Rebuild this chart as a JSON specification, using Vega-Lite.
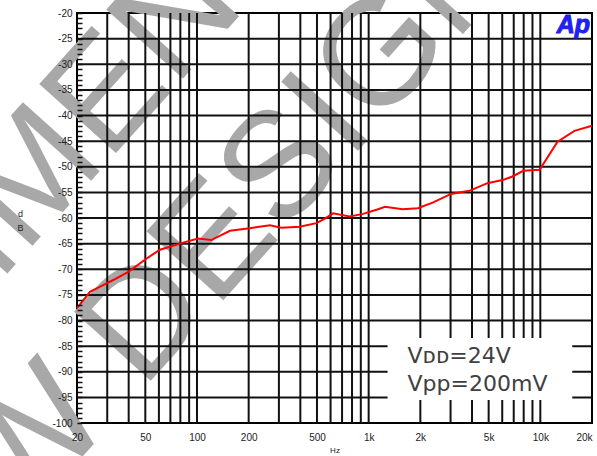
{
  "$schema": "https://vega.github.io/schema/vega-lite/v6.json",
  "width": 515,
  "height": 410,
  "autosize": "none",
  "padding": {"left": 77, "top": 13, "right": 5, "bottom": 33},
  "background": "white",
  "resolve": {"axis": {"x": "independent", "y": "independent"}},
  "config": {
    "view": {"stroke": "#000000", "strokeWidth": 2},
    "axis": {"labelFont": "Liberation Sans", "titleFont": "Liberation Sans", "labelColor": "#222222", "titleColor": "#222222", "domain": false, "grid": false}
  },
  "layer": [
    {
      "data": {"values": [
        {"f": 9.6, "db": -54.5, "t": "NOT RECOMMENDED FOR"},
        {"f": 70.0, "db": -74.4, "t": "NEW DESIGN"}
      ]},
      "mark": {"type": "text", "font": "Liberation Sans", "fontSize": 150, "angle": -48, "align": "center", "baseline": "middle", "fill": "#a8a8a8"},
      "encoding": {
        "x": {"field": "f", "type": "quantitative", "scale": {"type": "log", "domain": [20, 20000], "nice": false}, "axis": null},
        "y": {"field": "db", "type": "quantitative", "scale": {"domain": [-100, -20], "nice": false, "zero": false}, "axis": null},
        "text": {"field": "t"}
      }
    },
    {
      "data": {"values": [
        {"f": 30}, {"f": 40}, {"f": 50}, {"f": 60}, {"f": 70}, {"f": 80}, {"f": 90}, {"f": 100},
        {"f": 200}, {"f": 300}, {"f": 400}, {"f": 500}, {"f": 600}, {"f": 700}, {"f": 800}, {"f": 900}, {"f": 1000},
        {"f": 2000}, {"f": 3000}, {"f": 4000}, {"f": 5000}, {"f": 6000}, {"f": 7000}, {"f": 8000}, {"f": 9000}, {"f": 10000}
      ]},
      "mark": {"type": "rule", "color": "#111111", "strokeWidth": 2},
      "encoding": {
        "x": {
          "field": "f", "type": "quantitative",
          "scale": {"type": "log", "domain": [20, 20000], "nice": false},
          "axis": {
            "orient": "bottom", "zindex": 1,
            "values": [20,50,100,200,500,1000,2000,5000,10000,20000],
            "labelExpr": "datum.value == 20000 ? '20k\u00a0\u00a0' : (datum.value >= 1000 ? (datum.value/1000) + 'k' : datum.value + '')",
            "labelAlign": {"condition": {"test": "datum.value == 20000", "value": "right"}, "value": "center"},
            "ticks": false, "labelPadding": 9, "labelFontSize": 10, "labelFlush": false, "labelBound": false, "labelOverlap": false,
            "title": "Hz", "titleFontSize": 8, "titleFontWeight": "normal", "titlePadding": 4
          }
        }
      }
    },
    {
      "data": {"values": [
        {"db": -95}, {"db": -90}, {"db": -85}, {"db": -80}, {"db": -75}, {"db": -70}, {"db": -65}, {"db": -60},
        {"db": -55}, {"db": -50}, {"db": -45}, {"db": -40}, {"db": -35}, {"db": -30}, {"db": -25}
      ]},
      "mark": {"type": "rule", "color": "#111111", "strokeWidth": 2},
      "encoding": {
        "y": {
          "field": "db", "type": "quantitative",
          "scale": {"domain": [-100, -20], "nice": false, "zero": false},
          "axis": {
            "orient": "left", "zindex": 1, "offset": -5,
            "values": [-100,-99,-98,-97,-96,-95,-94,-93,-92,-91,-90,-89,-88,-87,-86,-85,-84,-83,-82,-81,-80,-79,-78,-77,-76,-75,-74,-73,-72,-71,-70,-69,-68,-67,-66,-65,-64,-63,-62,-61,-60,-59,-58,-57,-56,-55,-54,-53,-52,-51,-50,-49,-48,-47,-46,-45,-44,-43,-42,-41,-40,-39,-38,-37,-36,-35,-34,-33,-32,-31,-30,-29,-28,-27,-26,-25,-24,-23,-22,-21,-20],
            "labelExpr": "datum.value % 5 === 0 ? datum.value + '' : ''",
            "ticks": true, "tickSize": 5, "tickColor": "#111111", "tickWidth": 1.5,
            "labelPadding": 5, "labelFontSize": 10, "labelOverlap": false, "labelDy": 2, "labelBaseline": "middle",
            "title": ["d", "B"], "titleAngle": 0, "titleX": -62, "titleY": 196, "titleAlign": "center", "titleBaseline": "top",
            "titleFontSize": 9, "titleFontWeight": "normal", "titleLineHeight": 14
          }
        }
      }
    },
    {
      "data": {"values": [{"f": 1289, "f2": 15350, "db": -83.4, "db2": -95.5}]},
      "mark": {"type": "rect", "fill": "white", "stroke": null},
      "encoding": {
        "x": {"field": "f", "type": "quantitative", "scale": {"type": "log", "domain": [20, 20000], "nice": false}, "axis": null},
        "y": {"field": "db", "type": "quantitative", "scale": {"domain": [-100, -20], "nice": false, "zero": false}, "axis": null},
        "x2": {"field": "f2"}, "y2": {"field": "db2"}
      }
    },
    {
      "data": {"values": [
        {"f": 20, "db": -77.6}, {"f": 23.8, "db": -74.4}, {"f": 28.4, "db": -73.1}, {"f": 32.5, "db": -72.1},
        {"f": 39.8, "db": -70.5}, {"f": 50.9, "db": -67.9}, {"f": 60.8, "db": -66.2}, {"f": 69.5, "db": -65.6},
        {"f": 83, "db": -64.8}, {"f": 101.6, "db": -64.0}, {"f": 121, "db": -64.3}, {"f": 155.6, "db": -62.5},
        {"f": 203, "db": -62.0}, {"f": 266, "db": -61.4}, {"f": 310, "db": -61.9}, {"f": 396, "db": -61.7},
        {"f": 496, "db": -61.0}, {"f": 556, "db": -60.1}, {"f": 620, "db": -59.1}, {"f": 774, "db": -59.7},
        {"f": 928, "db": -59.2}, {"f": 1135, "db": -58.3}, {"f": 1244, "db": -57.8}, {"f": 1578, "db": -58.3},
        {"f": 1932, "db": -58.1}, {"f": 2360, "db": -57.0}, {"f": 3020, "db": -55.3}, {"f": 3860, "db": -54.7},
        {"f": 4920, "db": -53.2}, {"f": 6020, "db": -52.6}, {"f": 6880, "db": -51.9}, {"f": 7960, "db": -50.8},
        {"f": 9900, "db": -50.6}, {"f": 12600, "db": -45.1}, {"f": 15800, "db": -43.0}, {"f": 20000, "db": -42.0}
      ]},
      "mark": {"type": "line", "color": "#ff0000", "strokeWidth": 2},
      "encoding": {
        "x": {"field": "f", "type": "quantitative", "scale": {"type": "log", "domain": [20, 20000], "nice": false}, "axis": null},
        "y": {"field": "db", "type": "quantitative", "scale": {"domain": [-100, -20], "nice": false, "zero": false}, "axis": null}
      }
    },
    {
      "data": {"values": [
        {"f": 1685, "db": -88.3, "t": "Vᴅᴅ=24V"},
        {"f": 1685, "db": -93.75, "t": "Vpp=200mV"}
      ]},
      "mark": {"type": "text", "font": "DejaVu Sans", "fontSize": 22, "align": "left", "baseline": "alphabetic", "fill": "#404040"},
      "encoding": {
        "x": {"field": "f", "type": "quantitative", "scale": {"type": "log", "domain": [20, 20000], "nice": false}, "axis": null},
        "y": {"field": "db", "type": "quantitative", "scale": {"domain": [-100, -20], "nice": false, "zero": false}, "axis": null},
        "text": {"field": "t"}
      }
    },
    {
      "data": {"values": [{"f": 15570, "db": -23.9, "t": "Ap"}]},
      "mark": {"type": "text", "font": "Liberation Sans", "fontSize": 25, "fontWeight": "bold", "fontStyle": "italic", "align": "center", "baseline": "alphabetic", "fill": "#2020f0", "stroke": "#2020f0", "strokeWidth": 1},
      "encoding": {
        "x": {"field": "f", "type": "quantitative", "scale": {"type": "log", "domain": [20, 20000], "nice": false}, "axis": null},
        "y": {"field": "db", "type": "quantitative", "scale": {"domain": [-100, -20], "nice": false, "zero": false}, "axis": null},
        "text": {"field": "t"}
      }
    }
  ]
}
